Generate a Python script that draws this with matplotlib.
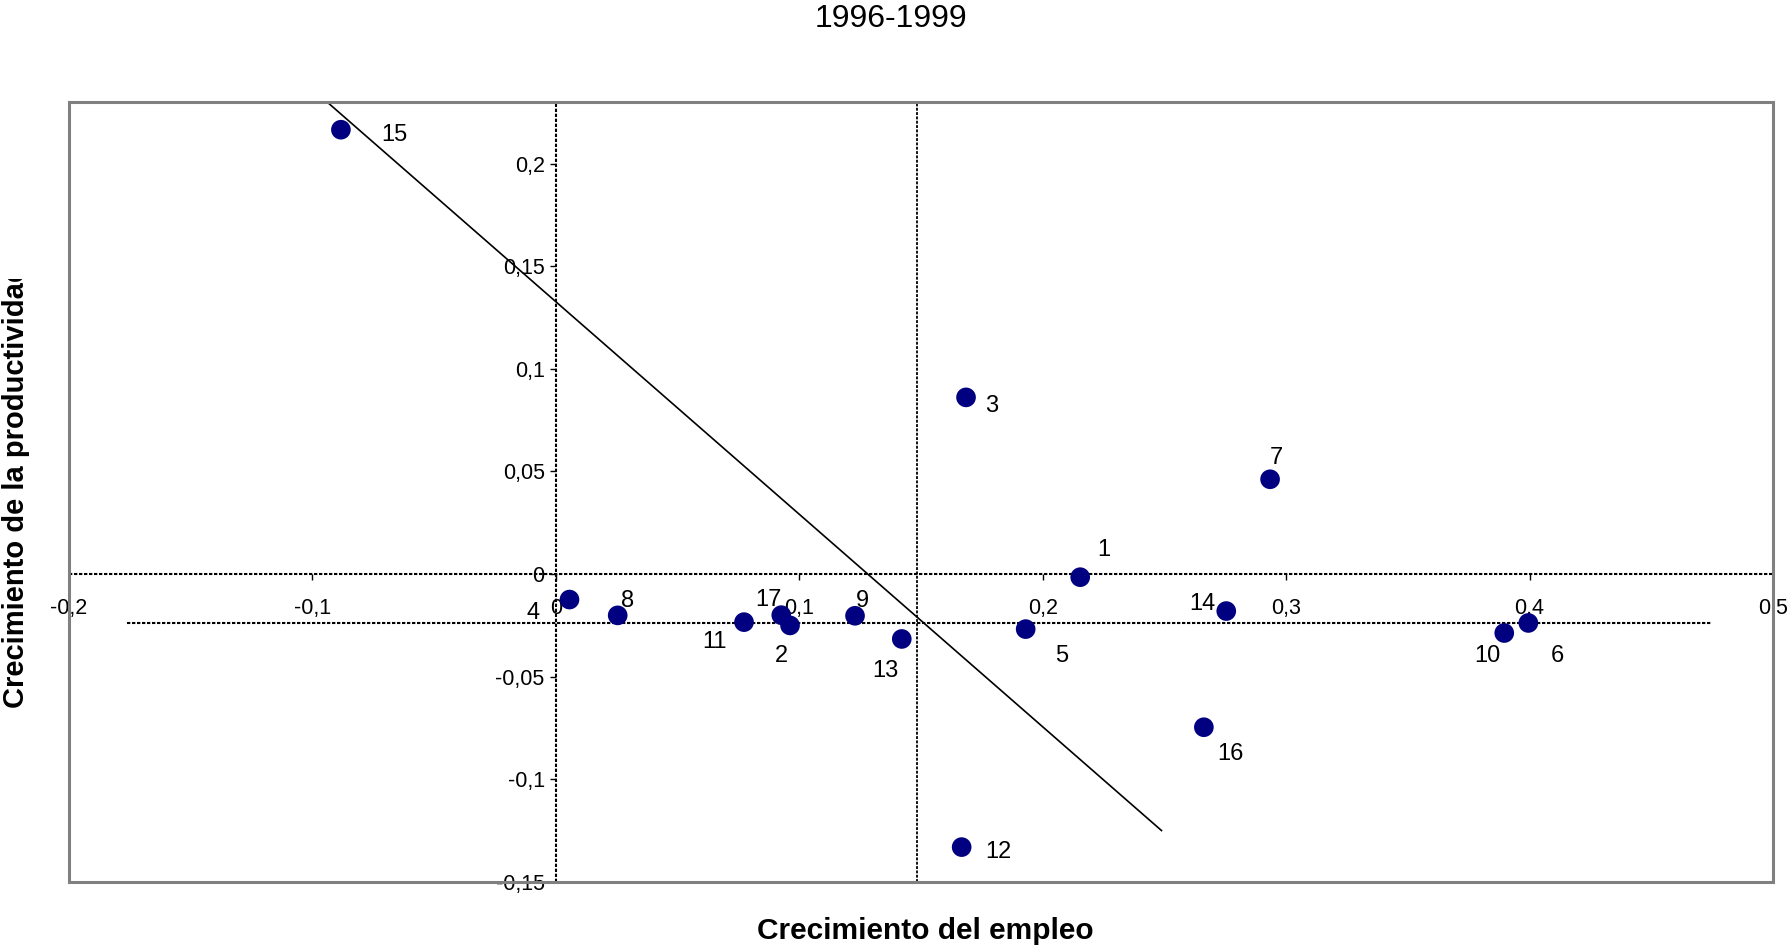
import matplotlib
matplotlib.use("Agg")
import matplotlib.pyplot as plt
from matplotlib.patches import Rectangle
import numpy as np

plt.rcParams['font.family'] = ['Liberation Sans', 'DejaVu Sans']

# ---------------- data ----------------
labels = ["1", "2", "3", "4", "5", "6", "7", "8", "9", "10",
          "11", "12", "13", "14", "15", "16", "17"]
empleo = [0.2154, 0.0962, 0.1685, 0.0056, 0.1930, 0.3995, 0.2934, 0.0254, 0.1229, 0.3896,
          0.0773, 0.1667, 0.1421, 0.2754, -0.0883, 0.2662, 0.0926]
productividad = [-0.0015, -0.0250, 0.0861, -0.0124, -0.0268, -0.0238, 0.0462, -0.0201, -0.0203, -0.0287,
                 -0.0234, -0.1330, -0.0316, -0.0180, 0.2165, -0.0746, -0.0200]

ref_x = 0.1484            # vertical reference line
ref_y = -0.0236           # horizontal reference line
ref_y_span = [-0.176, 0.475]

trend_slope = -1.0355
trend_intercept = 0.1327
trend_x = [-0.11, 0.2488]

x_ticks = [-0.2, -0.1, 0.0, 0.1, 0.2, 0.3, 0.4, 0.5]
x_tick_labels = ["-0,2", "-0,1", "0", "0,1", "0,2", "0,3", "0,4", "0,5"]
y_ticks = [-0.15, -0.1, -0.05, 0.0, 0.05, 0.1, 0.15, 0.2]
y_tick_labels = ["-0,15", "-0,1", "-0,05", "0", "0,05", "0,1", "0,15", "0,2"]

title = "1996-1999"
xlabel = "Crecimiento del empleo"
ylabel = "Crecimiento de la productividad"

# label offsets in pixels (dx right, dy down)
label_offsets = {"1": (24, -27), "2": (-9, 31), "3": (26, 9), "4": (-36, 13), "5": (36, 27),
                 "6": (29, 33), "7": (6, -21), "8": (10, -14), "9": (7, -15), "10": (-17, 23),
                 "11": (-30, 20), "12": (37, 5), "13": (-16, 32), "14": (-24, -7), "15": (53, 5),
                 "16": (27, 27), "17": (-13, -15)}

# ---------------- figure ----------------
W, H = 1790, 947
fig = plt.figure(figsize=(W / 100, H / 100), dpi=100)
ax = fig.add_axes([69 / W, 1 - 882 / H, 1704 / W, 780 / H])
ax.set_xlim(-0.2, 0.5)
ax.set_ylim(-0.15, 0.23)

# frame
ax.add_patch(Rectangle((0, 0), 1, 1, transform=ax.transAxes, fill=False,
                       edgecolor="#808080", linewidth=2.2, clip_on=False, zorder=5))

dash = (0, (1.6, 0.8))
for s in ["top", "right"]:
    ax.spines[s].set_visible(False)
ax.spines["left"].set_position(("data", 0))
ax.spines["bottom"].set_position(("data", 0))
for s in ["left", "bottom"]:
    ax.spines[s].set_linestyle(dash)
    ax.spines[s].set_linewidth(1.5)
    ax.spines[s].set_color("black")
    ax.spines[s].set_capstyle("butt")

ax.set_xticks(x_ticks)
ax.set_xticklabels(x_tick_labels)
ax.set_yticks(y_ticks)
ax.set_yticklabels(y_tick_labels)
ax.tick_params(axis="x", direction="out", length=4, width=1, pad=13, labelsize=15.5)
ax.tick_params(axis="y", direction="out", length=4, width=1, pad=4, labelsize=15.5)

# reference lines
ax.axvline(ref_x, color="black", linestyle=dash, linewidth=1.3, dash_capstyle="butt")
ax.plot(ref_y_span, [ref_y, ref_y], color="black", linestyle=dash, linewidth=1.5,
        dash_capstyle="butt")

# trend line
tx = np.array(trend_x)
ax.plot(tx, trend_slope * tx + trend_intercept, color="black", linewidth=1.2)

# points
ax.scatter(empleo, productividad, s=200, color="#000080", zorder=4, edgecolors="none")
for lab, xv, yv in zip(labels, empleo, productividad):
    dx, dy = label_offsets[lab]
    ax.annotate(lab, (xv, yv), xytext=(dx, -dy), textcoords="offset pixels",
                ha="center", va="center", fontsize=17)

# texts
fig.text(891 / W, 1 - 19 / H, title, ha="center", va="center", fontsize=23)
fig.text(925 / W, 1 - 931 / H, xlabel, ha="center", va="center", fontsize=21.5, fontweight="bold")
fig.text(16 / W, 1 - 708 / H, ylabel, ha="center", va="bottom", rotation=90,
         fontsize=21, fontweight="bold", zorder=3)
# the reference crops the end of the y label at the chart edge
fig.add_artist(Rectangle((0, 1 - 279 / H), 60 / W, 279 / H, transform=fig.transFigure,
                         facecolor="white", edgecolor="none", zorder=10))

fig.savefig("out.png", dpi=100)
